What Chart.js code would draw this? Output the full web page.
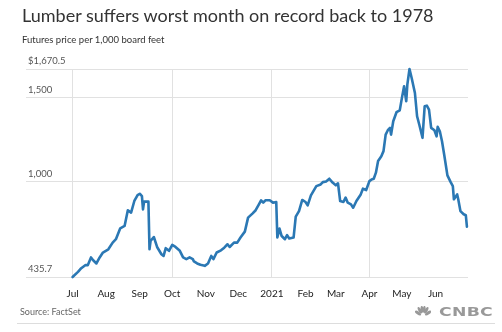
<!DOCTYPE html>
<html>
<head>
<meta charset="utf-8">
<script src="https://cdn.jsdelivr.net/npm/chart.js@4"></script>
<style>
html,body{margin:0;padding:0;background:#fff;}
#wrap{position:relative;width:502px;height:332px;overflow:hidden;font-family:Lato,"Open Sans",sans-serif;}
#c{position:absolute;left:0;top:0;}
.t{position:absolute;white-space:nowrap;}
#title{left:22px;top:4px;font-size:18px;line-height:22px;color:#333;}
#sub{left:22px;top:33px;font-size:9.5px;line-height:13px;color:#333;}
#src{left:20px;top:305px;font-size:9px;line-height:13px;color:#666;}
#logo{left:415px;top:304px;height:15px;display:flex;align-items:center;color:#999;}
#logo span{font-family:"DejaVu Sans",sans-serif;font-weight:bold;font-size:12.5px;display:inline-block;transform:scaleX(1.38);transform-origin:left center;margin-left:8px;letter-spacing:0.2px;}
#rule{position:absolute;left:17px;top:323px;width:478px;height:1px;background:#ddd;}
</style>
</head>
<body>
<div id="wrap">
  <canvas id="c" width="502" height="332"></canvas>
  <div class="t" id="title">Lumber suffers worst month on record back to 1978</div>
  <div class="t" id="sub">Futures price per 1,000 board feet</div>
  <div class="t" id="src">Source: FactSet</div>
  <div class="t" id="logo"><svg width="16" height="12" viewBox="0 0 16 12"><g fill="#999"><ellipse cx="3" cy="7" rx="1.6" ry="3.6" transform="rotate(-55 3 7)"/><ellipse cx="4.8" cy="4.2" rx="1.5" ry="3.6" transform="rotate(-28 4.8 4.2)"/><ellipse cx="7" cy="3.3" rx="1.4" ry="3.4" transform="rotate(-6 7 3.3)"/><ellipse cx="9.2" cy="3.3" rx="1.4" ry="3.4" transform="rotate(6 9.2 3.3)"/><ellipse cx="11.3" cy="4.2" rx="1.5" ry="3.6" transform="rotate(28 11.3 4.2)"/><ellipse cx="13.1" cy="7" rx="1.6" ry="3.6" transform="rotate(55 13.1 7)"/></g></svg><span>CNBC</span></div>
  <div id="rule"></div>
</div>
<script>
// ---- data ----
const dates = [
  '2020-07-01','2020-07-06','2020-07-09','2020-07-13','2020-07-15','2020-07-18','2020-07-20','2020-07-23','2020-07-26','2020-07-29',
  '2020-08-03','2020-08-07','2020-08-10','2020-08-14','2020-08-18','2020-08-21','2020-08-24','2020-08-27','2020-08-30',
  '2020-09-01','2020-09-03','2020-09-04','2020-09-05','2020-09-09','2020-09-10','2020-09-11','2020-09-14','2020-09-17','2020-09-21','2020-09-23','2020-09-25','2020-09-28',
  '2020-10-01','2020-10-04','2020-10-08','2020-10-11','2020-10-14','2020-10-17','2020-10-20','2020-10-21','2020-10-24','2020-10-27','2020-10-31',
  '2020-11-03','2020-11-06','2020-11-08','2020-11-11','2020-11-15','2020-11-18','2020-11-21','2020-11-23','2020-11-27','2020-11-30',
  '2020-12-03','2020-12-07','2020-12-10','2020-12-14','2020-12-17','2020-12-20','2020-12-22','2020-12-24','2020-12-26','2020-12-30',
  '2021-01-02','2021-01-05','2021-01-06','2021-01-08','2021-01-10','2021-01-13','2021-01-15','2021-01-17','2021-01-21','2021-01-23','2021-01-26','2021-01-29',
  '2021-02-01','2021-02-03','2021-02-06','2021-02-11','2021-02-15','2021-02-17','2021-02-20','2021-02-23','2021-02-26',
  '2021-03-01','2021-03-03','2021-03-05','2021-03-08','2021-03-10','2021-03-12','2021-03-15','2021-03-17','2021-03-20','2021-03-24','2021-03-26','2021-03-29',
  '2021-04-01','2021-04-03','2021-04-05','2021-04-07','2021-04-09','2021-04-12','2021-04-14','2021-04-16','2021-04-18','2021-04-20','2021-04-21','2021-04-23','2021-04-26','2021-04-29',
  '2021-05-01','2021-05-03','2021-05-05','2021-05-06','2021-05-08','2021-05-10','2021-05-13','2021-05-15','2021-05-17','2021-05-20','2021-05-22','2021-05-24','2021-05-26','2021-05-28','2021-05-31',
  '2021-06-02','2021-06-03','2021-06-05','2021-06-07','2021-06-09','2021-06-12','2021-06-15','2021-06-17','2021-06-18','2021-06-21','2021-06-22','2021-06-24','2021-06-27','2021-06-29','2021-06-30'
];
const prices = [
  435.7,466,488,507,506,552,535,516,552,581,
  600,640,660,725,739,832,818,887,922,
  930,916,837,883,883,600,650,673,614,571,561,607,591,
  626,614,591,552,542,552,542,528,516,508,502,
  516,561,542,581,594,610,630,614,640,640,
  670,705,788,812,832,867,891,877,891,891,
  877,881,670,723,679,660,684,664,670,794,827,893,
  881,861,920,975,985,999,1003,1019,996,
  980,992,887,881,907,877,867,847,887,926,960,952,
  1005,1015,1019,1055,1124,1153,1183,1281,1307,1321,1281,1360,1414,1425,
  1499,1568,1479,1578,1670.5,1617,1528,1390,1341,1262,1449,1453,1429,1321,1307,
  1271,1327,1301,1242,1163,1039,999,975,897,926,897,827,808,802,735
];
const monthTickDates = ['2020-07-01','2020-08-01','2020-09-01','2020-10-01','2020-11-01','2020-12-01',
                        '2021-01-01','2021-02-01','2021-03-01','2021-04-01','2021-05-01','2021-06-01'];
const monthTickLabels = ['Jul','Aug','Sep','Oct','Nov','Dec','2021','Feb','Mar','Apr','May','Jun'];
const gridMonthLabels = ['Jul','Oct','2021','Apr'];
const yTickValues = [435.7, 1000, 1500, 1670.5];
const yTickLabels = ['435.7', '1,000', '1,500', '$1,670.5'];

// ---- helpers ----
const T0 = Date.parse('2020-07-01');
const day = s => (Date.parse(s) - T0) / 864e5;
const points = dates.map((d, i) => ({ x: day(d), y: prices[i] }));

new Chart(document.getElementById('c'), {
  type: 'line',
  data: { datasets: [{
    data: points,
    borderColor: '#2b78b4',
    borderWidth: 2.6,
    pointRadius: 0,
    tension: 0,
    fill: false,
    clip: false,
    borderJoinStyle: 'round',
    borderCapStyle: 'round'
  }]},
  options: {
    responsive: false,
    animation: false,
    events: [],
    layout: { padding: { left: 22, right: 34, top: 69, bottom: 21 } },
    plugins: { legend: { display: false }, tooltip: { enabled: false }, title: { display: false } },
    scales: {
      x: {
        type: 'linear',
        min: -43,
        max: 365,
        afterBuildTicks: s => { s.ticks = monthTickDates.map(d => ({ value: day(d) })); },
        ticks: {
          autoSkip: false, maxRotation: 0, padding: 11,
          color: '#222',
          font: { family: 'Lato', size: 10 },
          callback: (v, i) => monthTickLabels[i]
        },
        grid: {
          drawTicks: false,
          lineWidth: 1,
          color: ctx => (ctx.index !== undefined && gridMonthLabels.includes(monthTickLabels[ctx.index])) ? '#e1e1e1' : 'rgba(0,0,0,0)'
        },
        border: { display: false }
      },
      y: {
        type: 'linear',
        min: 435.7,
        max: 1670.5,
        afterBuildTicks: s => { s.ticks = yTickValues.map(v => ({ value: v })); },
        ticks: {
          mirror: true, padding: 2, labelOffset: -8,
          color: '#555',
          font: { family: 'Lato', size: 9.5 },
          callback: (v, i) => yTickLabels[i]
        },
        grid: { drawTicks: false, color: '#e1e1e1', lineWidth: 1 },
        border: { display: false }
      }
    }
  }
});
</script>
</body>
</html>
